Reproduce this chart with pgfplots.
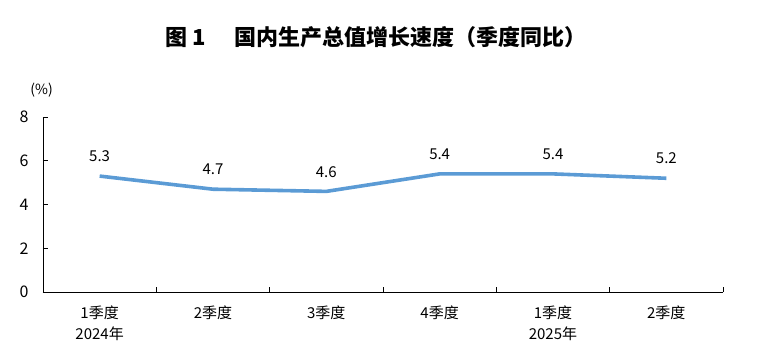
\documentclass[border=0pt]{standalone}
\usepackage{pgfplots}
\pgfplotsset{compat=1.18}
\usepackage{fontspec}
\setmainfont{Noto Sans CJK SC}
\newfontfamily\titlefont{Noto Sans CJK SC}
\definecolor{lineblue}{HTML}{5B9BD5}
\begin{document}
\begin{tikzpicture}
\begin{axis}[
  scale only axis,
  width=680pt, height=175pt,
  xmin=-0.5, xmax=5.5,
  ymin=0, ymax=8,
  ytick={0,2,4,6,8},
  xtick={0,1,2,3,4,5},
  xticklabels={{1季度\\2024年},{2季度},{3季度},{4季度},{1季度\\2025年},{2季度}},
  minor xtick={0.5,1.5,2.5,3.5,4.5,5.5},
  major x tick style={draw=none},
  minor tick length=5pt,
  major tick length=5pt,
  tick align=inside,
  axis x line*=bottom,
  axis y line*=left,
  axis line style={black, line width=0.9pt},
  tick style={black, line width=0.8pt},
  x tick label style={align=center, font=\fontsize{15}{21}\selectfont, yshift=-10pt},
  y tick label style={font=\fontsize{16}{18}\selectfont, xshift=-11pt},
  yticklabel={\pgfmathprintnumber[fixed,precision=0]{\tick}},
  /pgf/number format/assume math mode=true,
  clip=false,
  nodes near coords={\pgfmathprintnumber[fixed,fixed zerofill,precision=1]{\pgfplotspointmeta}},
  every node near coord/.append style={font=\fontsize{15}{17}\selectfont, black, anchor=south, yshift=9pt},
]
\addplot[lineblue, line width=3.6pt, line join=round, mark=none] coordinates {
  (0,5.3) (1,4.7) (2,4.6) (3,5.4) (4,5.4) (5,5.2)
};
\node[font=\fontsize{14}{16}\selectfont] at (rel axis cs:-0.002,1.155) {(\%)};
\node[font=\titlefont\bfseries\fontsize{22}{26}\selectfont] at (rel axis cs:0.49,1.455) {图 1\hspace{1.3em}国内生产总值增长速度（季度同比）};
\path[use as bounding box] (rel axis cs:-0.0632,-0.4057) rectangle (rel axis cs:1.05,1.6686);
\end{axis}
\end{tikzpicture}
\end{document}
